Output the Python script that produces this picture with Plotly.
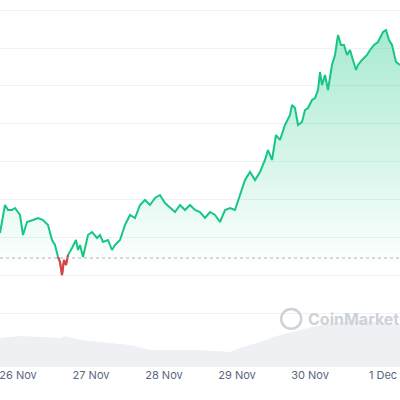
import pandas as pd
import plotly.graph_objects as go

# sample index (one step ~ 19.7 min) and price (chart units)
idx = [0, 5, 8, 12, 15, 20, 23, 27, 33, 38, 43, 48, 52, 55, 58, 60, 62, 64, 66, 68, 72, 76, 78, 80, 83,
       88, 92, 97, 100, 103, 108, 112, 115, 120, 125, 130, 135, 140, 145, 150, 155, 160, 165, 170, 175,
       180, 185, 190, 195, 200, 205, 210, 215, 220, 225, 230, 235, 240, 245, 250, 255, 260, 265, 268,
       272, 276, 280, 285, 290, 292, 295, 298, 302, 305, 308, 312, 315, 318, 320, 322, 325, 328, 332,
       335, 338, 341, 344, 347, 350, 353, 356, 358, 362, 367, 370, 374, 378, 383, 386, 389, 392, 396, 400]
price = [167, 195, 190, 190, 192, 185, 165, 178, 180, 182, 180, 175, 160, 155, 143, 138, 125, 140, 135,
         145, 152, 160, 150, 155, 143, 165, 168, 162, 165, 158, 160, 150, 155, 160, 175, 185, 182, 195,
         200, 195, 202, 205, 197, 192, 188, 195, 190, 195, 190, 188, 182, 188, 185, 178, 190, 192, 190,
         205, 220, 228, 220, 228, 240, 250, 240, 265, 260, 275, 285, 295, 292, 275, 278, 290, 292, 300,
         302, 310, 328, 315, 325, 310, 335, 345, 365, 355, 355, 345, 350, 340, 330, 335, 340, 345, 350,
         355, 358, 368, 370, 360, 355, 338, 335]
vol_idx = [0, 20, 60, 65, 80, 100, 130, 150, 175, 200, 230, 240, 260, 280, 300, 320, 340, 360, 380, 400]
volume = [62, 64, 62, 64, 60, 58, 55, 50, 50, 50, 48, 52, 58, 65, 70, 75, 78, 80, 78, 75]
baseline = 142
grid_vals = [87, 125, 163, 201, 239, 277, 315, 352, 390]
tick_days = ["2023-11-26", "2023-11-27", "2023-11-28", "2023-11-29", "2023-11-30", "2023-12-01"]
tick_text = ["26 Nov", "27 Nov", "28 Nov", "29 Nov", "30 Nov", "1 Dec"]

start = pd.Timestamp("2023-11-26") - pd.Timedelta(minutes=18 * 24 * 60 / 73)
step = pd.Timedelta(minutes=24 * 60 / 73)
t = [start + i * step for i in idx]
tv = [start + i * step for i in vol_idx]

green = "#16c784"
red = "#ea3943"

fig = go.Figure()
fig.add_trace(go.Scatter(
    x=t, y=price, mode="lines", line=dict(color="rgba(0,0,0,0)", width=0),
    fill="tozeroy",
    fillgradient=dict(type="vertical", start=130, stop=375,
                      colorscale=[[0, "rgba(22,199,132,0)"], [1, "rgba(22,199,132,0.38)"]]),
    hoverinfo="skip"))
fig.add_trace(go.Scatter(x=tv, y=volume, mode="lines", line=dict(width=0),
                         fill="tozeroy", fillcolor="#eef0f3", hoverinfo="skip"))
fig.add_hline(y=baseline, line=dict(color="#a6b0c3", width=1, dash="dot"))
fig.add_trace(go.Scatter(x=t, y=price, mode="lines", line=dict(color=green, width=2)))
below = [p if (p < baseline or (j > 0 and price[j - 1] < baseline) or
               (j < len(price) - 1 and price[j + 1] < baseline)) else None
         for j, p in enumerate(price)]
fig.add_trace(go.Scatter(x=t, y=below, mode="lines", line=dict(color=red, width=2)))

# watermark
fig.add_shape(type="circle", xref="paper", yref="paper", x0=0.703, x1=0.753, y0=0.104, y1=0.158,
              line=dict(color="#cdd2d9", width=2.5))
fig.add_annotation(text="<b>CoinMarketCap</b>", xref="paper", yref="paper", x=0.765, y=0.131,
                   xanchor="left", yanchor="middle", showarrow=False,
                   font=dict(family="Inter", size=16, color="#cdd2d9"))

fig.update_layout(
    width=400, height=400, margin=dict(l=0, r=0, t=0, b=33, autoexpand=False),
    plot_bgcolor="white", paper_bgcolor="white", showlegend=False,
    xaxis=dict(range=[start, start + 400 * step], tickvals=tick_days, ticktext=tick_text,
               showgrid=False, zeroline=False, ticks="", automargin=False,
               ticklabeloverflow="allow",
               tickfont=dict(family="Inter", size=11, color="#58667e")),
    yaxis=dict(range=[33, 400], tickvals=grid_vals, showticklabels=False, automargin=False,
               gridcolor="#eff2f5", zeroline=False),
)
fig.write_html("out.html", post_script="document.body.style.margin='0';",
               config={"displayModeBar": False})
